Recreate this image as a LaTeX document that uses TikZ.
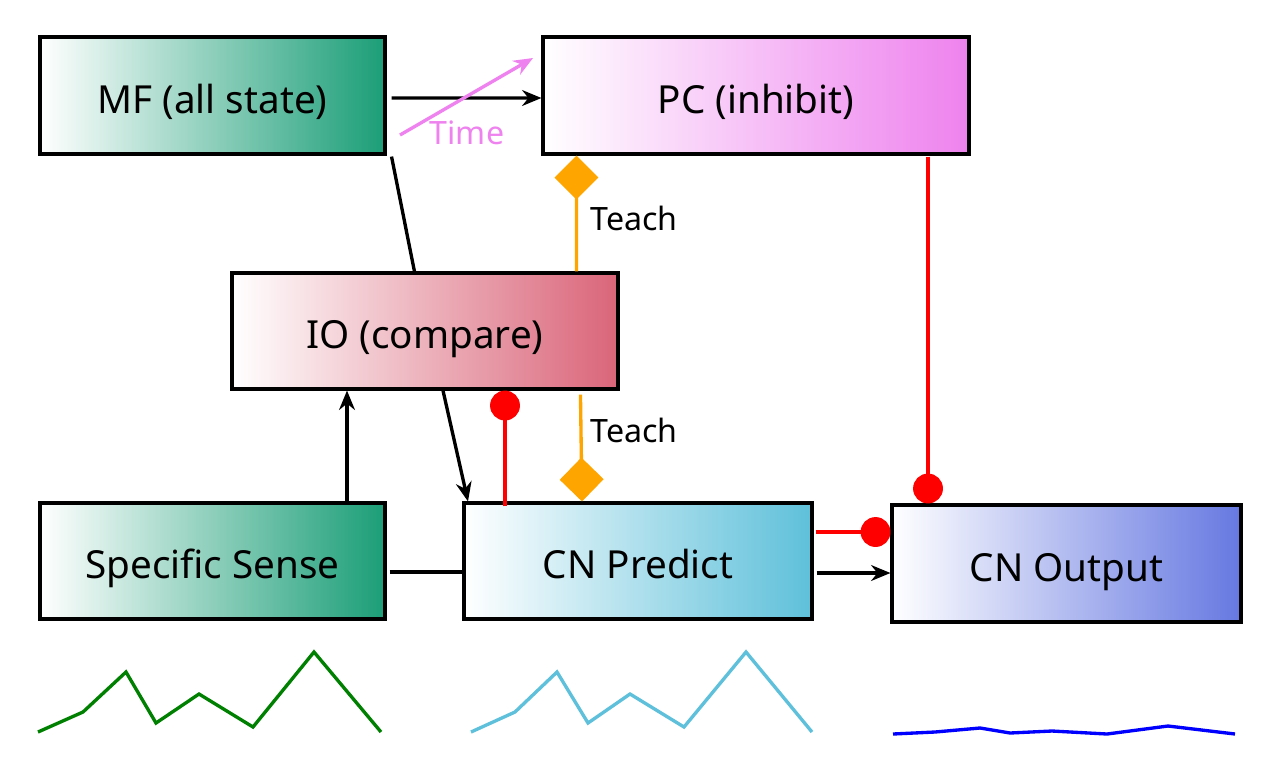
\documentclass[tikz,border=0pt]{standalone}
\usepackage{fontspec}
\setmainfont{Noto Sans}
\usetikzlibrary{arrows.meta}
\definecolor{mfgreen}{RGB}{27,158,119}
\definecolor{pcviolet}{RGB}{238,130,238}
\definecolor{iored}{RGB}{218,101,121}
\definecolor{cnpcyan}{RGB}{94,192,218}
\definecolor{cnoblue}{RGB}{102,120,225}
\definecolor{tchorange}{RGB}{255,165,0}
\definecolor{waveblue}{RGB}{0,0,255}
\definecolor{wavegreen}{RGB}{0,128,0}
\tikzset{
  box/.style={draw=black, line width=1.8pt, left color=white, font=\fontsize{22}{26}\selectfont, inner sep=0pt, text height=20pt, text depth=0pt},
  arr/.style={line width=1.9pt, -{Stealth[length=11pt,width=9pt]}},
  plain/.style={line width=1.9pt},
  teach/.style={draw=tchorange, line width=1.9pt, -{Diamond[length=25pt,width=25pt,fill=tchorange]}},
  inhib/.style={draw=red, line width=1.9pt, -{Circle[length=17pt,fill=red]}},
  lbl/.style={font=\fontsize{18.3}{21}\selectfont, inner sep=0pt},
  wave/.style={line width=1.9pt, line join=miter}
}
\begin{document}
\begin{tikzpicture}[x=0.02cm, y=-0.02cm]
\useasboundingbox (0,0) rectangle (1280,775);
% boxes
\node[box, right color=mfgreen, minimum width=6.9cm, minimum height=2.34cm] (MF) at (212.5,95.5) {MF (all state)};
\node[box, right color=pcviolet, minimum width=8.52cm, minimum height=2.34cm] (PC) at (756,95.5) {PC (inhibit)};
\node[box, right color=iored, minimum width=7.72cm, minimum height=2.32cm] (IO) at (425,331) {IO (compare)};
\node[box, right color=mfgreen, minimum width=6.9cm, minimum height=2.32cm] (SS) at (212.5,561) {Specific Sense};
\node[box, right color=cnpcyan, minimum width=6.96cm, minimum height=2.32cm] (CNP) at (638,561) {CN Predict};
\node[box, right color=cnoblue, minimum width=6.98cm, minimum height=2.34cm] (CNO) at (1066.5,563.5) {CN Output};
% MF -> PC
\draw[arr] ([shift={(5,2.5)}]MF.east) -- (PC.west |- 0,98);
% Time arrow
\coordinate (t1) at (400,135);
\coordinate (t2) at (533,58);
\draw[pcviolet, line width=1.9pt, -{Stealth[length=11pt,width=9pt]}] (t1) -- (t2);
\node[lbl, text=pcviolet] (time) at (467,133) {Time};
% MF -- IO
\draw[plain] ([shift={(5,1)}]MF.south east) -- ([xshift=184*0.02cm]IO.north west);
% Teach top
\draw[teach] ([xshift=346*0.02cm]IO.north west) -- ([xshift=35*0.02cm]PC.south west);
\node[lbl, anchor=west] (teach1) at (590,218) {Teach};
% Teach bottom
\draw[teach] ([shift={(350,4)}]IO.south west) -- (CNP.north -| 582,0);
\node[lbl, anchor=west] (teach2) at (590,430) {Teach};
% red inhibit lines
\draw[inhib] ([yshift=-5*0.02cm]CNP.north -| 505,0) -- (IO.south -| 505,0);
\draw[inhib] ([yshift=-1*0.02cm]PC.south -| 928,0) -- (CNO.north -| 928,0);
\draw[inhib] ([shift={(2,0)}]CNP.east |- 0,532) -- (CNO.west |- 0,532);
% black connectors
\draw[arr] ([xshift=3*0.02cm]CNP.east |- 0,573) -- (CNO.west |- 0,573);
\draw[arr] (SS.north -| 347,0) -- (IO.south -| 347,0);
\draw[arr] (IO.south -| 443,0) -- (CNP.north -| 468,0);
\draw[plain] ([xshift=3*0.02cm]SS.east |- 0,572) -- (CNP.west |- 0,572);
% waveforms
\draw[wave, wavegreen] (38,732) -- (83,712) -- (126,672) -- (156,723) -- (199,694) -- (253,727) -- (314,652) -- (381,732);
\draw[wave, cnpcyan] (471,732) -- (515,712) -- (557,672) -- (588,723) -- (630,694) -- (684,727) -- (746,652) -- (812,732);
\draw[wave, waveblue] (893,734) -- (935,732) -- (980,728) -- (1010,733) -- (1052,731) -- (1107,734) -- (1168,726) -- (1235,734);
\end{tikzpicture}
\end{document}
